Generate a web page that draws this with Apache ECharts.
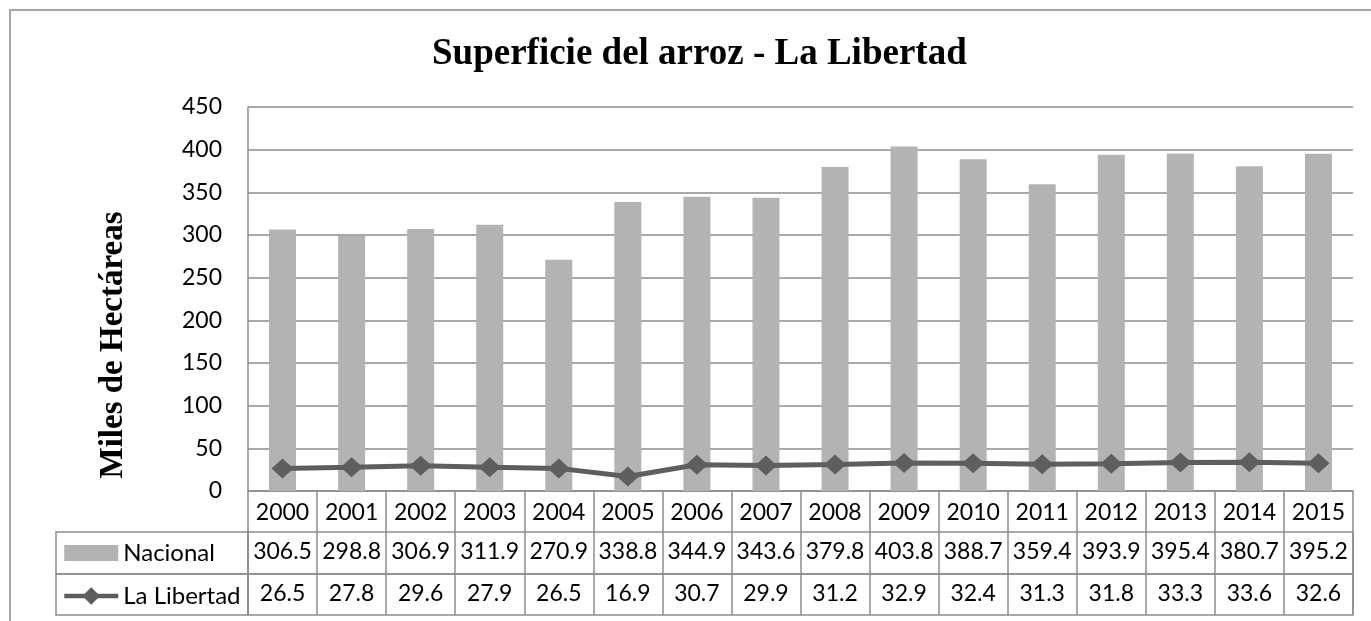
<!DOCTYPE html>
<html>
<head>
<meta charset="utf-8">
<script src="https://cdn.jsdelivr.net/npm/echarts@6/dist/echarts.min.js"></script>
<style>
  html, body { margin: 0; padding: 0; background: #fff; }
  #chart { width: 1371px; height: 621px; }
</style>
</head>
<body>
<div id="chart"></div>
<script>
const years = ['2000', '2001', '2002', '2003', '2004', '2005', '2006', '2007',
  '2008', '2009', '2010', '2011', '2012', '2013', '2014', '2015'];
const nacional = [306.5, 298.8, 306.9, 311.9, 270.9, 338.8, 344.9, 343.6,
  379.8, 403.8, 388.7, 359.4, 393.9, 395.4, 380.7, 395.2];
const laLibertad = [26.5, 27.8, 29.6, 27.9, 26.5, 16.9, 30.7, 29.9,
  31.2, 32.9, 32.4, 31.3, 31.8, 33.3, 33.6, 32.6];
const yTicks = [0, 50, 100, 150, 200, 250, 300, 350, 400, 450];

const FONT = 'Lato, "Open Sans", sans-serif';
const SERIF = '"Liberation Serif", "DejaVu Serif", serif';
const LINE_GRAY = '#8c8c8c';
const FS = 23;

const chart = echarts.init(document.getElementById('chart'));

// fila de la tabla: eje de categorias con las cifras como etiquetas
function tableAxis(gridIndex, values) {
  return {
    type: 'category',
    gridIndex,
    data: years,
    position: 'top',
    boundaryGap: true,
    axisLine: { show: false },
    axisTick: { show: false },
    splitLine: { show: true, lineStyle: { color: LINE_GRAY, width: 1.5 } },
    axisLabel: {
      inside: true,
      margin: 8,
      fontFamily: FONT,
      fontSize: FS,
      color: '#000',
      interval: 0,
      formatter: (v, i) => values[i].toFixed(1)
    }
  };
}

const hiddenY = idx => ({ type: 'value', gridIndex: idx, show: false });
const hiddenX = idx => ({ type: 'value', gridIndex: idx, show: false });

const option = {
  animation: false,
  backgroundColor: '#fff',
  title: {
    text: 'Superficie del arroz - La Libertad',
    left: 427,
    top: 31,
    textStyle: { fontFamily: SERIF, fontWeight: 'bold', fontSize: 37, color: '#000' }
  },
  graphic: [
    {
      type: 'rect',
      shape: { x: 10, y: 10, width: 1400, height: 700 },
      style: { fill: 'none', stroke: '#a6a6a6', lineWidth: 2 },
      silent: true
    },
    {
      type: 'text',
      x: 113,
      y: 345,
      rotation: Math.PI / 2,
      style: {
        text: 'Miles de Hectáreas',
        font: 'bold 33px ' + SERIF,
        fill: '#000',
        align: 'center',
        verticalAlign: 'middle'
      },
      silent: true
    }
  ],
  legend: {
    orient: 'vertical',
    left: 62,
    top: 541,
    padding: 0,
    itemWidth: 54,
    itemHeight: 22,
    itemGap: 19,
    textStyle: { fontFamily: FONT, fontSize: 24, color: '#000' },
    data: [
      { name: 'Nacional', icon: 'path://M0,0 L51,0 L51,15 L0,15 Z' },
      { name: 'La Libertad', lineStyle: { width: 4.5, color: '#5e5e5e' } }
    ]
  },
  grid: [
    { left: 248, right: 18, top: 107, bottom: 130 },
    { left: 248, right: 18, top: 532, height: 42, show: true, borderColor: LINE_GRAY, borderWidth: 1.5 },
    { left: 248, right: 18, top: 574, height: 41, show: true, borderColor: LINE_GRAY, borderWidth: 1.5 },
    { left: 56, width: 192, top: 532, height: 42, show: true, borderColor: LINE_GRAY, borderWidth: 1.5 },
    { left: 56, width: 192, top: 574, height: 41, show: true, borderColor: LINE_GRAY, borderWidth: 1.5 }
  ],
  xAxis: [
    {
      type: 'category',
      gridIndex: 0,
      data: years,
      boundaryGap: true,
      axisLine: { lineStyle: { color: LINE_GRAY, width: 1.5 } },
      axisTick: { show: true, length: 41, lineStyle: { color: LINE_GRAY, width: 1.5 } },
      axisLabel: { margin: 10, fontFamily: FONT, fontSize: FS, color: '#000', interval: 0 }
    },
    tableAxis(1, nacional),
    tableAxis(2, laLibertad),
    hiddenX(3),
    hiddenX(4)
  ],
  yAxis: [
    {
      type: 'value',
      gridIndex: 0,
      min: yTicks[0],
      max: yTicks[yTicks.length - 1],
      interval: 50,
      axisLine: { show: true, lineStyle: { color: LINE_GRAY, width: 1.5 } },
      axisTick: { show: false },
      axisLabel: { margin: 26, fontFamily: FONT, fontSize: FS, color: '#000' },
      splitLine: { lineStyle: { color: LINE_GRAY, width: 1.5 } }
    },
    hiddenY(1),
    hiddenY(2),
    hiddenY(3),
    hiddenY(4)
  ],
  series: [
    {
      name: 'Nacional',
      type: 'bar',
      xAxisIndex: 0,
      yAxisIndex: 0,
      barWidth: 27,
      itemStyle: { color: '#b3b3b3' },
      data: nacional
    },
    {
      name: 'La Libertad',
      type: 'line',
      xAxisIndex: 0,
      yAxisIndex: 0,
      symbol: 'diamond',
      symbolSize: [22, 20],
      lineStyle: { color: '#5e5e5e', width: 5 },
      itemStyle: { color: '#5e5e5e' },
      data: laLibertad
    }
  ]
};

chart.setOption(option);
</script>
</body>
</html>
